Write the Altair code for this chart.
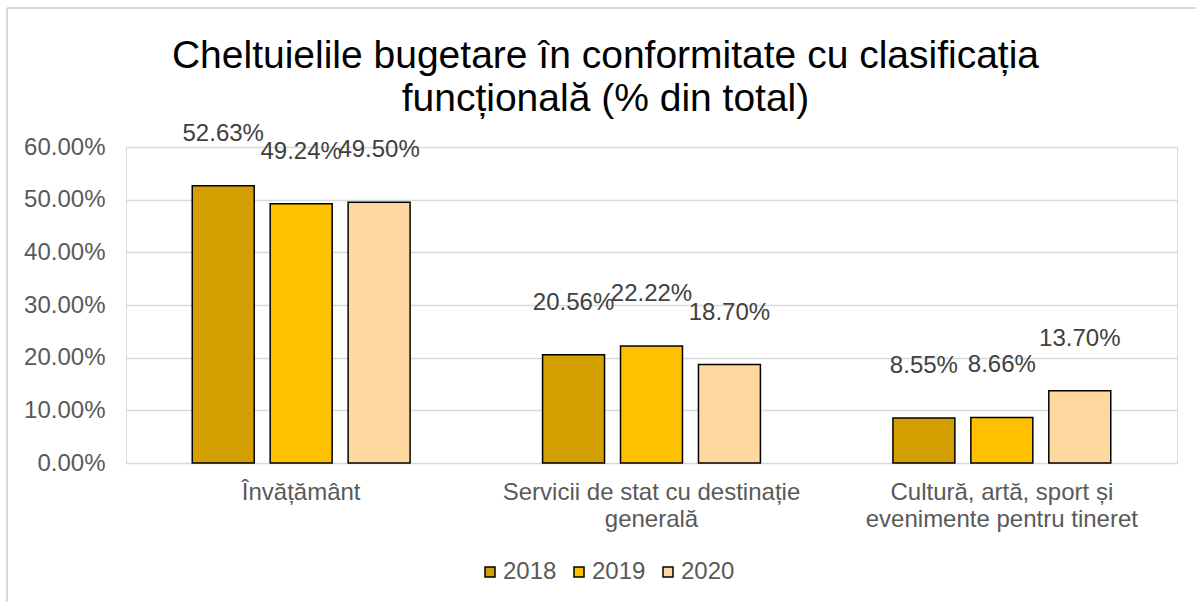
import altair as alt
import pandas as pd

categories = ["Învățământ", "Servicii de stat cu destinație generală", "Cultură, artă, sport și evenimente pentru tineret"]
category_lines = [["Învățământ"], ["Servicii de stat cu destinație", "generală"], ["Cultură, artă, sport și", "evenimente pentru tineret"]]
years = ["2018", "2019", "2020"]
values_2018 = [52.63, 20.56, 8.55]
values_2019 = [49.24, 22.22, 8.66]
values_2020 = [49.50, 18.70, 13.70]
colors = ["#D29E00", "#FFC000", "#FFD8A0"]
y_ticks = [0, 10, 20, 30, 40, 50, 60]
title_lines = ["Cheltuielile bugetare în conformitate cu clasificația", "funcțională (% din total)"]

rows = []
for yr, vals in zip(years, [values_2018, values_2019, values_2020]):
    for c, v in zip(categories, vals):
        rows.append({"categorie": c, "an": yr, "valoare": v})
df = pd.DataFrame(rows)

label_expr = ""
for c, lines in zip(categories, category_lines):
    arr = "[" + ",".join("'" + l + "'" for l in lines) + "]"
    label_expr += f"datum.value == '{c}' ? {arr} : "
label_expr += "datum.value"

FONT = "Liberation Sans"
FS = 24
W, H = 1051, 316
PL, PT = 126, 147

x = alt.X("categorie:N", sort=categories, title=None,
          scale=alt.Scale(paddingInner=0, paddingOuter=0),
          axis=alt.Axis(labelExpr=label_expr, labelAngle=0, domain=False, ticks=False,
                        labelFontSize=FS, labelColor="#595959", labelFont=FONT,
                        labelPadding=17, labelLineHeight=27, labelLimit=400))
xo = alt.XOffset("an:N", sort=years, scale=alt.Scale(paddingInner=0.205, paddingOuter=0.85))
y = alt.Y("valoare:Q", title=None,
          scale=alt.Scale(domain=[0, 60], nice=False),
          axis=alt.Axis(values=y_ticks, labelExpr="format(datum.value, '.2f') + '%'",
                        domain=False, ticks=False, grid=True, gridColor="#D9D9D9", gridWidth=1.5,
                        labelFontSize=FS, labelColor="#595959", labelFont=FONT, labelPadding=21))
color = alt.Color("an:N", sort=years, title=None,
                  scale=alt.Scale(domain=years, range=colors),
                  legend=alt.Legend(orient="none", legendX=352, legendY=413, direction="horizontal",
                                    symbolType="square", symbolSize=100, symbolStrokeColor="black",
                                    symbolStrokeWidth=1.5, labelFontSize=FS, labelColor="#595959",
                                    labelFont=FONT, columnPadding=10, labelOffset=1))

base = alt.Chart(df)
bars = base.mark_bar(stroke="black", strokeWidth=1.5).encode(x=x, xOffset=xo, y=y, color=color)
labels = base.mark_text(dy=-52, fontSize=FS, color="#404040", font=FONT, baseline="middle").transform_calculate(
    txt="format(datum.valoare, '.2f') + '%'").encode(
    x=alt.X("categorie:N", sort=categories), xOffset=xo, y="valoare:Q", text="txt:N")

frame_top = alt.Chart(pd.DataFrame({"a": [0]})).mark_rule(color="#D9D9D9", strokeWidth=2).encode(
    x=alt.value(-PL + 7), x2=alt.value(W + 60), y=alt.value(-PT + 8))
frame_left = alt.Chart(pd.DataFrame({"a": [0]})).mark_rule(color="#D9D9D9", strokeWidth=2).encode(
    x=alt.value(-PL + 7), y=alt.value(-PT + 8), y2=alt.value(H + 200))

chart = alt.layer(frame_top, frame_left, bars, labels).properties(
    width=W, height=H,
    title=alt.TitleParams(title_lines, fontSize=39, font=FONT, color="black", fontWeight="normal",
                          anchor="middle", dx=-46, offset=-112, lineHeight=43),
    autosize=alt.AutoSizeParams(type="none"),
    padding={"left": PL, "top": PT, "right": 1196 - PL - W, "bottom": 602 - PT - H},
).configure_view(stroke=None).configure(background="white")

chart.save("out.html", embed_options={"renderer": "svg", "actions": False})
